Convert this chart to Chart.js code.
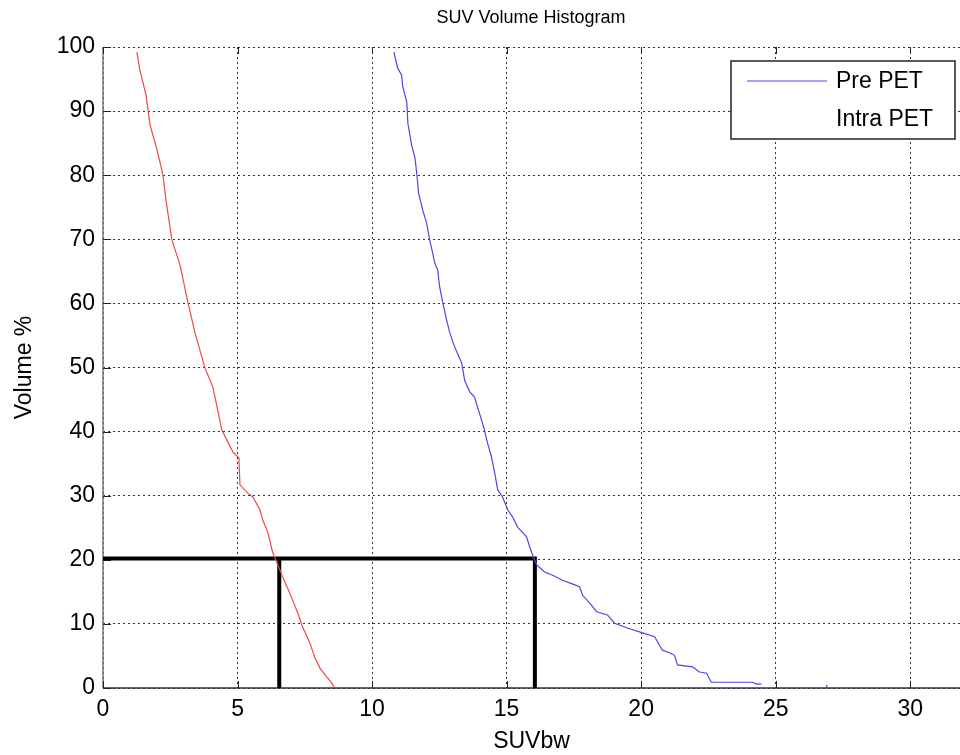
<!DOCTYPE html>
<html>
<head>
<meta charset="utf-8">
<script src="https://cdn.jsdelivr.net/npm/chart.js@4"></script>
<style>
  html, body { margin: 0; padding: 0; background: #fff; }
</style>
</head>
<body>
<canvas id="suvChart" width="960" height="755"></canvas>
<script>
// Intra PET (red) - cumulative SUV volume histogram
const intraSuv = [1.26, 1.37, 1.60, 1.75, 2.01, 2.23, 2.34, 2.56, 2.86, 3.16, 3.42, 3.79, 4.08, 4.42, 4.83, 5.05, 5.09, 5.38, 5.57, 5.83, 5.94, 6.13, 6.31, 6.39, 6.68, 6.94, 7.24, 7.39, 7.69, 7.87, 8.06, 8.32, 8.50, 8.61];
const intraVol = [99.2, 96.4, 92.5, 87.8, 83.9, 80.0, 76.1, 69.9, 66.0, 60.1, 55.4, 49.9, 47.0, 40.2, 36.8, 35.9, 31.7, 30.4, 29.8, 27.8, 26.2, 24.2, 21.1, 20.3, 17.3, 14.8, 11.7, 9.8, 7.0, 4.8, 3.1, 1.7, 0.8, 0];

// Pre PET (blue)
const preSuv = [10.81, 10.95, 11.10, 11.14, 11.29, 11.33, 11.47, 11.59, 11.66, 11.73, 11.88, 12.03, 12.14, 12.25, 12.33, 12.44, 12.51, 12.63, 12.77, 12.89, 13.00, 13.15, 13.33, 13.44, 13.63, 13.81, 13.92, 14.07, 14.18, 14.26, 14.44, 14.56, 14.67, 14.85, 15.04, 15.22, 15.41, 15.74, 15.86, 15.97, 16.12, 16.41, 16.71, 17.08, 17.34, 17.71, 17.82, 18.16, 18.34, 18.75, 19.01, 19.46, 20.05, 20.50, 20.79, 21.05, 21.24, 21.35, 21.91, 22.17, 22.43, 22.61, 24.14, 24.29, 24.47];
const preVol = [99.2, 96.7, 95.6, 93.8, 91.4, 88.1, 84.7, 82.8, 80.3, 77.2, 74.6, 72.5, 69.9, 67.9, 66.3, 65.2, 62.6, 60.1, 57.4, 55.4, 54.0, 52.4, 50.7, 48.0, 46.2, 45.4, 43.8, 41.8, 40.2, 38.7, 36.0, 33.5, 30.9, 29.8, 27.8, 26.7, 25.1, 23.6, 22.0, 20.7, 19.2, 18.1, 17.6, 16.8, 16.4, 15.8, 14.5, 12.9, 11.9, 11.4, 10.1, 9.4, 8.6, 8.0, 5.9, 5.5, 5.1, 3.6, 3.3, 2.5, 2.3, 0.9, 0.9, 0.6, 0.6];
const preOutlierSuv = [26.9, 26.9];
const preOutlierVol = [0, 0.5];

// D20 marker lines
const d20Vol = 20.2;
const preD20 = 16.05;
const intraD20 = 6.55;

const xTicks = [0, 5, 10, 15, 20, 25, 30];
const yTicks = [0, 10, 20, 30, 40, 50, 60, 70, 80, 90, 100];

const toPoints = (xs, ys) => xs.map((x, i) => ({ x: x, y: ys[i] }));

const FONT = "'Liberation Sans', Arial, sans-serif";

// solid axis lines with small inward tick marks (matlab style)
const axesLines = {
  id: 'axesLines',
  beforeDatasetsDraw(chart) {
    const { ctx, chartArea: a, scales: { x, y } } = chart;
    ctx.save();
    ctx.lineWidth = 1.5;
    ctx.strokeStyle = '#777';
    ctx.beginPath();
    ctx.moveTo(a.left, a.top);
    ctx.lineTo(a.left, a.bottom);
    ctx.stroke();
    ctx.strokeStyle = '#333';
    ctx.beginPath();
    ctx.moveTo(a.left, a.bottom);
    ctx.lineTo(a.right, a.bottom);
    ctx.stroke();
    ctx.lineWidth = 1;
    ctx.strokeStyle = '#222';
    ctx.beginPath();
    xTicks.forEach(v => {
      const px = Math.round(x.getPixelForValue(v)) + 0.5;
      ctx.moveTo(px, a.bottom);
      ctx.lineTo(px, a.bottom - 7);
      ctx.moveTo(px, a.top);
      ctx.lineTo(px, a.top + 7);
    });
    yTicks.forEach(v => {
      const py = Math.round(y.getPixelForValue(v)) + 0.5;
      ctx.moveTo(a.left, py);
      ctx.lineTo(a.left + 8, py);
    });
    ctx.stroke();
    ctx.restore();
  }
};

const extras = {
  id: 'extras',
  afterDraw(chart) {
    const ctx = chart.ctx;
    ctx.save();
    // title
    ctx.fillStyle = '#000';
    ctx.font = '18px ' + FONT;
    ctx.textAlign = 'center';
    ctx.textBaseline = 'middle';
    ctx.fillText('SUV Volume Histogram', 531, 18);

    // legend box
    ctx.fillStyle = '#fff';
    ctx.fillRect(731, 61, 224, 78);
    ctx.strokeStyle = '#222';
    ctx.lineWidth = 1.5;
    ctx.strokeRect(731, 61, 224, 78);
    ctx.strokeStyle = '#4a4ae0';
    ctx.lineWidth = 1.2;
    ctx.beginPath();
    ctx.moveTo(747, 81);
    ctx.lineTo(827, 81);
    ctx.stroke();
    ctx.fillStyle = '#000';
    ctx.font = '23px ' + FONT;
    ctx.textAlign = 'left';
    ctx.fillText('Pre PET', 836, 82);
    ctx.fillText('Intra PET', 836, 120);
    ctx.restore();
  }
};

const ctx = document.getElementById('suvChart').getContext('2d');

new Chart(ctx, {
  type: 'scatter',
  data: {
    datasets: [
      {
        label: 'Pre PET',
        data: toPoints(preSuv, preVol),
        showLine: true,
        borderColor: '#4a4ae0',
        borderWidth: 1.2,
        pointRadius: 0,
        tension: 0
      },
      {
        label: 'Pre PET outlier',
        data: toPoints(preOutlierSuv, preOutlierVol),
        showLine: true,
        borderColor: '#4a4ae0',
        borderWidth: 1.2,
        pointRadius: 0
      },
      {
        label: 'Intra PET',
        data: toPoints(intraSuv, intraVol),
        showLine: true,
        borderColor: '#f04848',
        borderWidth: 1.2,
        pointRadius: 0,
        tension: 0
      },
      {
        label: 'D20 pre',
        data: [{ x: 0, y: d20Vol }, { x: preD20, y: d20Vol }, { x: preD20, y: 0 }],
        showLine: true,
        borderColor: '#000',
        borderWidth: 4,
        borderJoinStyle: 'miter',
        pointRadius: 0
      },
      {
        label: 'D20 intra',
        data: [{ x: intraD20, y: d20Vol }, { x: intraD20, y: 0 }],
        showLine: true,
        borderColor: '#000',
        borderWidth: 4,
        pointRadius: 0
      }
    ]
  },
  options: {
    responsive: false,
    animation: false,
    layout: { padding: { top: 47, left: 0, right: 0, bottom: 0 } },
    plugins: {
      legend: { display: false },
      tooltip: { enabled: false }
    },
    scales: {
      x: {
        type: 'linear',
        min: 0,
        max: 31.85,
        afterBuildTicks: (scale) => { scale.ticks = xTicks.map(v => ({ value: v })); },
        afterFit: (scale) => { scale.height = 67; },
        grid: { color: '#333', lineWidth: 1, drawTicks: false },
        border: { display: false, dash: [2, 3] },
        ticks: { color: '#000', padding: 8, maxRotation: 0, font: { family: FONT, size: 23 } },
        title: { display: true, text: 'SUVbw', color: '#000', padding: { top: 0, bottom: 0 }, font: { family: FONT, size: 23 } }
      },
      y: {
        type: 'linear',
        min: 0,
        max: 100,
        afterBuildTicks: (scale) => { scale.ticks = yTicks.map(v => ({ value: v })); },
        afterFit: (scale) => { scale.width = 103; },
        grid: { color: '#333', lineWidth: 1, drawTicks: false },
        border: { display: false, dash: [2, 3] },
        ticks: { color: '#000', padding: 8, font: { family: FONT, size: 23 } },
        title: { display: true, text: 'Volume %', color: '#000', padding: { top: 11, bottom: 0 }, font: { family: FONT, size: 23 } }
      }
    }
  },
  plugins: [axesLines, extras]
});
</script>
</body>
</html>
